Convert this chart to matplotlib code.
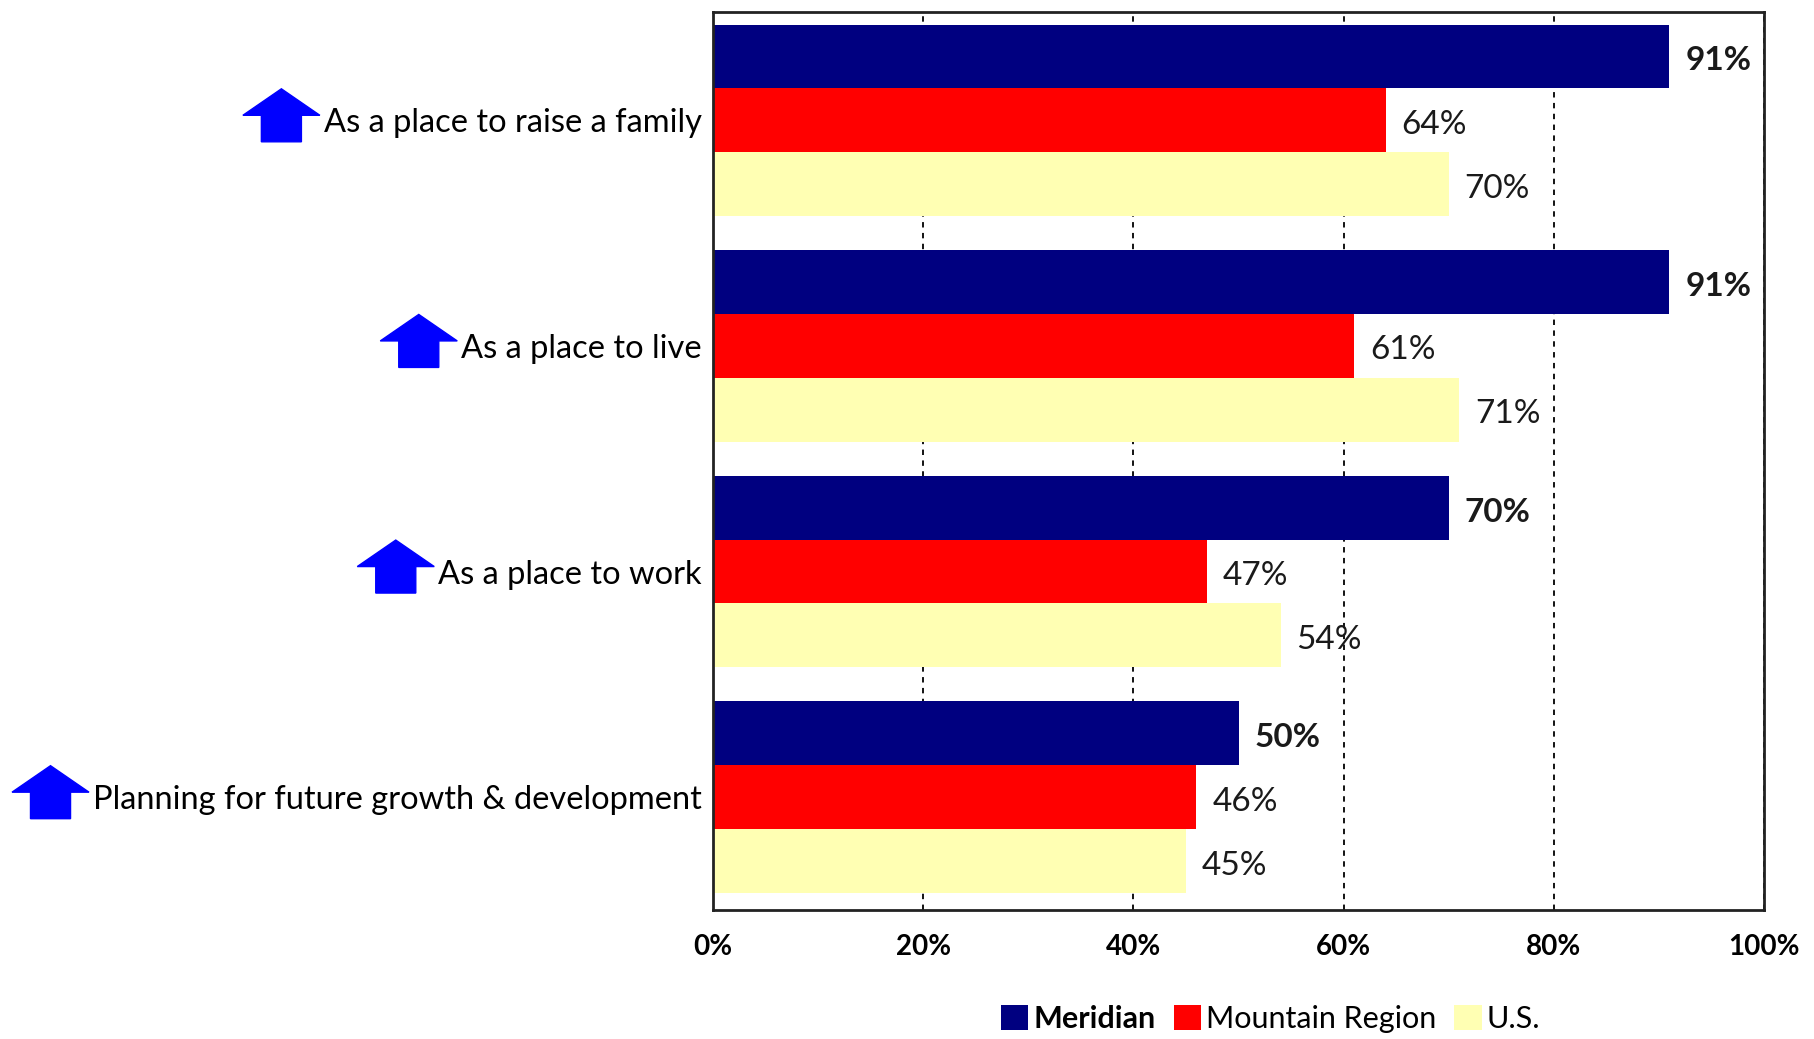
import matplotlib
matplotlib.use('Agg')
import matplotlib.pyplot as plt
import numpy as np
from matplotlib.patches import Polygon

categories = ['As a place to raise a family', 'As a place to live',
              'As a place to work', 'Planning for future growth & development']
series_names = ['Meridian', 'Mountain Region', 'U.S.']
meridian = [91, 91, 70, 50]
mountain = [64, 61, 47, 46]
us = [70, 71, 54, 45]
xticks = [0, 20, 40, 60, 80, 100]
xtick_labels = ['0%', '20%', '40%', '60%', '80%', '100%']

colors = ['#000080', '#FF0000', '#FFFFB3']
plt.rcParams['font.family'] = ['Lato', 'DejaVu Sans']

fig = plt.figure(figsize=[18.15, 10.39], dpi=100)
ax = fig.add_axes([713/1815, 1-910/1039, (1764-713)/1815, (910-12)/1039])

y = np.arange(len(categories))
h = 0.283
allvals = [meridian, mountain, us]
for i, vals in enumerate(allvals):
    pos = y + (i-1)*h
    ax.barh(pos, vals, height=h, color=colors[i], label=series_names[i], zorder=2)
    for p, v in zip(pos, vals):
        ax.text(v+1.5, p+0.02, '%d%%' % v, va='center', ha='left', fontsize=24,
                fontweight='bold' if i == 0 else 'normal', color='#1a1a1a', zorder=3)

ax.set_xlim(0, 100)
ax.set_ylim(3.5, -0.48)
ax.set_xticks(xticks)
ax.set_xticklabels(xtick_labels, fontsize=20, fontweight='bold')
ax.set_yticks(y)
ax.set_yticklabels(categories, fontsize=23.5)
ax.tick_params(axis='both', length=0)
ax.tick_params(axis='x', pad=17)
ax.tick_params(axis='y', pad=8)
ax.grid(axis='x', color='black', linestyle=(0, (3, 3)), linewidth=1.3, zorder=0)
for s in ax.spines.values():
    s.set_linewidth(2)
    s.set_color('#222222')

leg = fig.legend(loc='lower center', bbox_to_anchor=(0.7, 0.0), ncol=3, frameon=False,
                 fontsize=22, handlelength=0.9, handleheight=0.9, handletextpad=0.15,
                 columnspacing=0.6, borderaxespad=0.1, borderpad=0.1)
leg.get_texts()[0].set_fontweight('bold')

# blue up arrows left of each category label
fig.canvas.draw()
r = fig.canvas.get_renderer()
for lab in ax.get_yticklabels():
    bb = lab.get_window_extent(r)
    xr = bb.x0 - 4
    yc = (bb.y0 + bb.y1) / 2
    w, hh = 77, 53
    xl = xr - w
    yb = yc - hh/2 + 8
    pts = [(xl + w*0.24, yb), (xl + w*0.76, yb), (xl + w*0.76, yb + hh*0.5),
           (xr, yb + hh*0.5), (xl + w/2, yb + hh), (xl, yb + hh*0.5),
           (xl + w*0.24, yb + hh*0.5)]
    fig.patches.append(Polygon(pts, closed=True, color='#0000FF', transform=None))

fig.savefig('out.png')
